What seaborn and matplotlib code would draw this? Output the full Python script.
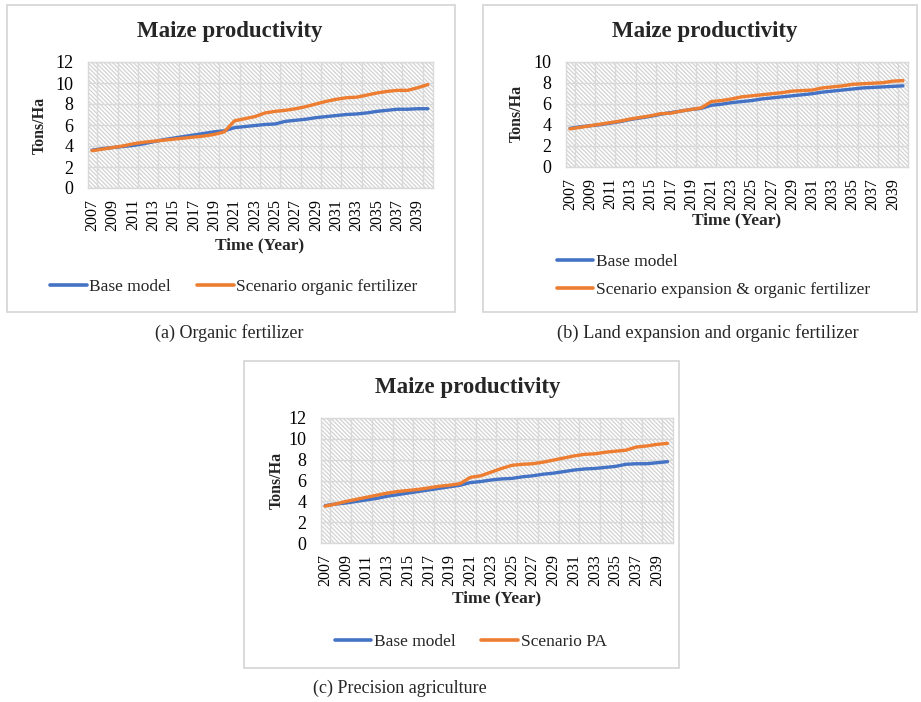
import numpy as np
import pandas as pd
import matplotlib
matplotlib.use("Agg")
import matplotlib.pyplot as plt
from matplotlib.patches import Rectangle
from matplotlib.lines import Line2D
import seaborn as sns

# ---------------- data ----------------
years = list(range(2007, 2041))
tick_years = list(range(2007, 2040, 2))

base_a = [3.60, 3.75, 3.85, 3.95, 4.05, 4.20, 4.40, 4.60, 4.75, 4.90,
          5.05, 5.20, 5.35, 5.45, 5.75, 5.85, 5.95, 6.05, 6.10, 6.35,
          6.45, 6.55, 6.70, 6.80, 6.90, 7.00, 7.05, 7.15, 7.30, 7.40,
          7.50, 7.50, 7.55, 7.55]
organic_a = [3.55, 3.70, 3.85, 4.00, 4.20, 4.35, 4.45, 4.55, 4.65, 4.75,
             4.85, 4.95, 5.10, 5.35, 6.40, 6.60, 6.80, 7.15, 7.30, 7.40,
             7.55, 7.75, 8.00, 8.25, 8.45, 8.60, 8.65, 8.85, 9.05, 9.20,
             9.30, 9.30, 9.55, 9.85]

base_b = [3.65, 3.80, 3.90, 4.00, 4.15, 4.30, 4.50, 4.65, 4.80, 5.00,
          5.15, 5.30, 5.45, 5.55, 5.85, 5.95, 6.10, 6.20, 6.30, 6.45,
          6.55, 6.65, 6.75, 6.85, 6.95, 7.10, 7.20, 7.30, 7.40, 7.50,
          7.55, 7.60, 7.65, 7.70]
expansion_b = [3.60, 3.75, 3.90, 4.05, 4.20, 4.35, 4.55, 4.70, 4.85, 5.05,
               5.10, 5.30, 5.45, 5.60, 6.20, 6.30, 6.45, 6.65, 6.75, 6.85,
               6.95, 7.05, 7.20, 7.25, 7.30, 7.50, 7.60, 7.70, 7.85, 7.90,
               7.95, 8.00, 8.15, 8.20]

base_c = [3.60, 3.75, 3.85, 4.00, 4.15, 4.30, 4.50, 4.65, 4.80, 4.95,
          5.10, 5.25, 5.40, 5.55, 5.80, 5.90, 6.05, 6.15, 6.20, 6.35,
          6.45, 6.60, 6.70, 6.85, 7.00, 7.10, 7.15, 7.25, 7.35, 7.55,
          7.60, 7.60, 7.70, 7.80]
pa_c = [3.55, 3.75, 4.00, 4.20, 4.40, 4.60, 4.80, 4.95, 5.05, 5.15,
        5.30, 5.45, 5.55, 5.70, 6.30, 6.45, 6.80, 7.15, 7.45, 7.55,
        7.60, 7.75, 7.95, 8.15, 8.35, 8.50, 8.55, 8.70, 8.80, 8.90,
        9.20, 9.30, 9.45, 9.55]

series_base = "Base model"
series_a = "Scenario organic fertilizer"
series_b = "Scenario expansion & organic fertilizer"
series_c = "Scenario PA"

captions = ["(a) Organic fertilizer",
            "(b) Land expansion and organic fertilizer",
            "(c) Precision agriculture"]

BLUE = "#4472C4"
ORANGE = "#ED7D31"
GRID = "#d9d9d9"

# ---------------- style ----------------
sns.set_theme(style="white")
plt.rcParams["font.family"] = ["Liberation Serif", "DejaVu Serif"]
plt.rcParams["hatch.color"] = "#d2d2d2"
plt.rcParams["hatch.linewidth"] = 0.9

W, H = 921, 702
fig = plt.figure(figsize=(W / 100, H / 100), dpi=100)
fig.patch.set_facecolor("white")


def fx(px):
    return px / W


def fy(py):
    return 1 - py / H


def panel_box(x0, y0, x1, y1):
    fig.add_artist(Rectangle((fx(x0), fy(y1)), fx(x1 - x0), (y1 - y0) / H,
                             transform=fig.transFigure, facecolor="none",
                             edgecolor="#d4d4d4", lw=1.2))


def draw_panel(rect, base, scen, scen_name, ytop):
    ax = fig.add_axes(rect)
    ax.add_patch(Rectangle((0, 0), 1, 1, transform=ax.transAxes,
                           facecolor="white", edgecolor="#d2d2d2", lw=0,
                           hatch="\\" * 8, zorder=0))
    df = pd.DataFrame({
        "Year": years * 2,
        "Tons/Ha": base + scen,
        "Series": [series_base] * len(years) + [scen_name] * len(years),
    })
    sns.lineplot(data=df, x="Year", y="Tons/Ha", hue="Series",
                 palette={series_base: BLUE, scen_name: ORANGE},
                 linewidth=2.4, ax=ax, legend=False, zorder=3)
    ax.set_xlim(2006.6, 2040.5)
    ax.set_ylim(0, ytop)
    ax.set_yticks(range(0, ytop + 1, 2))
    ax.set_xticks(tick_years)
    ax.set_xticklabels([str(y) for y in tick_years], rotation=90)
    ax.set_xticks([y + 0.5 for y in range(2007, 2040, 2)], minor=True)
    ax.grid(axis="y", which="major", color=GRID, lw=1.0)
    ax.grid(axis="x", which="minor", color=GRID, lw=1.0)
    ax.grid(axis="x", which="major", visible=False)
    ax.set_axisbelow(True)
    ax.tick_params(axis="both", which="both", length=0, colors="black")
    ax.tick_params(axis="y", pad=10.5, labelsize=13)
    ax.tick_params(axis="x", pad=8, labelsize=11.5)
    for s in ax.spines.values():
        s.set_color(GRID)
        s.set_linewidth(1.0)
    ax.set_xlabel("")
    ax.set_ylabel("")
    return ax


def add_texts(title_xy, ylab_xy, xlab_xy):
    fig.text(fx(title_xy[0]), fy(title_xy[1]), "Maize productivity",
             ha="center", va="center", fontsize=16.5, fontweight="bold")
    fig.text(fx(ylab_xy[0]), fy(ylab_xy[1]), "Tons/Ha", rotation=90,
             ha="center", va="center", fontsize=11.5, fontweight="bold")
    fig.text(fx(xlab_xy[0]), fy(xlab_xy[1]), "Time (Year)",
             ha="center", va="center", fontsize=12.5, fontweight="bold")


def handles(scen_name):
    return [Line2D([], [], color=BLUE, lw=2.6, label=series_base),
            Line2D([], [], color=ORANGE, lw=2.6, label=scen_name)]


LEG = dict(frameon=False, fontsize=12.5, handlelength=2.1,
           handletextpad=0.15, borderpad=0.0)

# ---------------- panel (a) ----------------
panel_box(7, 5, 455, 312)
draw_panel([fx(88), fy(188), fx(433 - 88), (188 - 62) / H],
           base_a, organic_a, series_a, 12)
add_texts((229.5, 32), (40, 125), (260, 245))
fig.legend(handles=handles(series_a), loc="center",
           bbox_to_anchor=(fx(234), fy(287)), ncol=2,
           columnspacing=1.5, **LEG)
fig.text(fx(229), fy(333), captions[0], ha="center", va="center",
         fontsize=13)

# ---------------- panel (b) ----------------
panel_box(483, 5, 917, 312)
draw_panel([fx(566), fy(166.7), fx(908 - 566), (166.7 - 61.7) / H],
           base_b, expansion_b, series_b, 10)
add_texts((705, 31), (517, 113), (737, 220))
fig.legend(handles=handles(series_b), loc="center left",
           bbox_to_anchor=(fx(548), fy(276)), ncol=1,
           labelspacing=0.65, **LEG)
fig.text(fx(708), fy(333), captions[1], ha="center", va="center",
         fontsize=13.2)

# ---------------- panel (c) ----------------
panel_box(244, 361, 679, 668)
draw_panel([fx(321), fy(543.3), fx(672.7 - 321), (543.3 - 417.7) / H],
           base_c, pa_c, series_c, 12)
add_texts((467.5, 387), (277, 480), (497, 598))
fig.legend(handles=handles(series_c), loc="center",
           bbox_to_anchor=(fx(470.5), fy(642)), ncol=2,
           columnspacing=1.5, **LEG)
fig.text(fx(400), fy(688), captions[2], ha="center", va="center",
         fontsize=13)

fig.savefig("out.png", dpi=100, facecolor="white")
